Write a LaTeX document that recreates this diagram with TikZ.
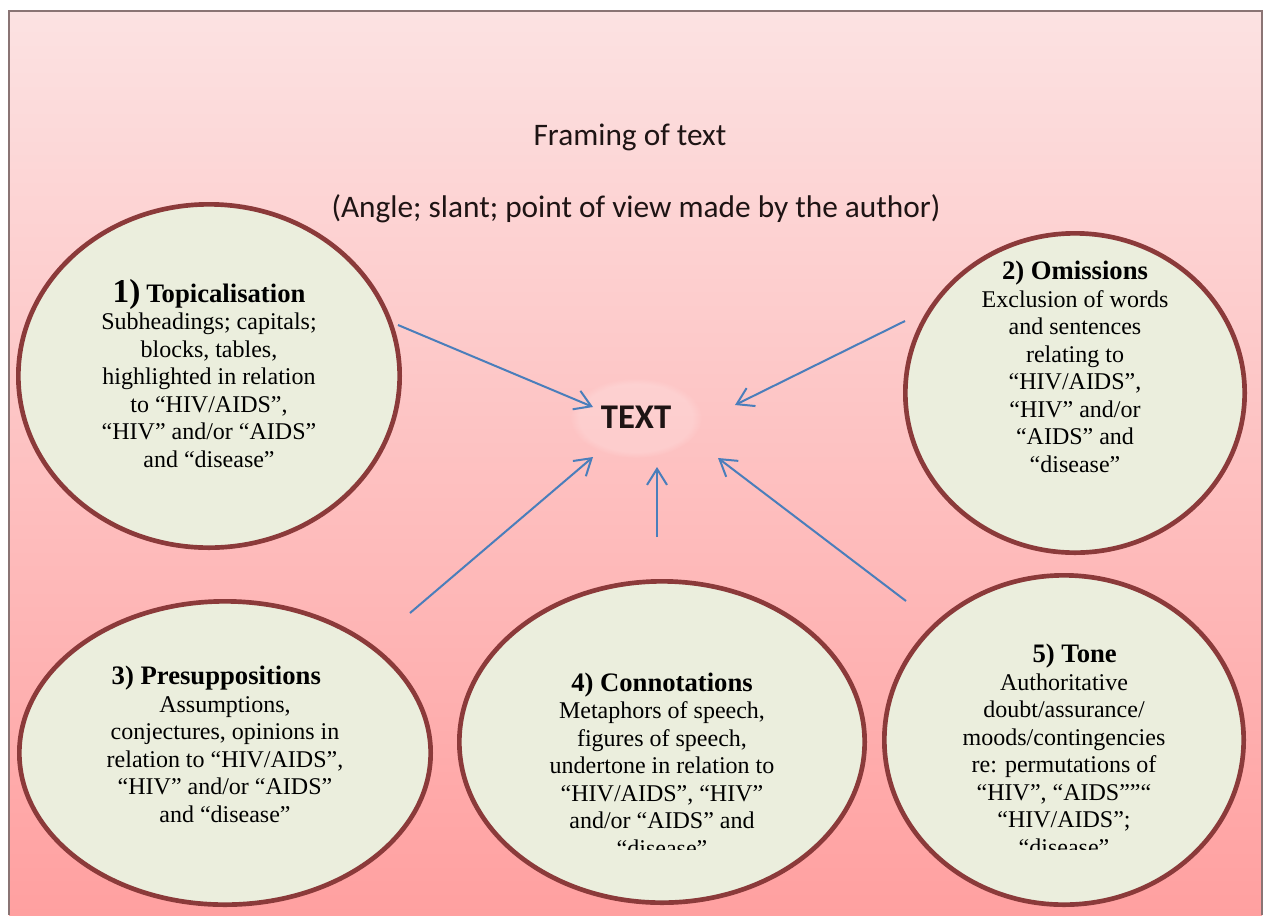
\documentclass[tikz,border=0pt]{standalone}
\usepackage{fontspec}
\setmainfont{Liberation Serif}
\newfontfamily\calfont{Carlito}
\usetikzlibrary{shapes.geometric,arrows.meta,fadings}
\definecolor{bgtop}{HTML}{FCE2E2}
\definecolor{bgmid}{HTML}{FFC8C8}
\definecolor{bgbot}{HTML}{FFA0A0}
\definecolor{framecol}{HTML}{8A7474}
\definecolor{ellfill}{HTML}{EBEEDD}
\definecolor{elldraw}{HTML}{8B3A3A}
\definecolor{arrowblue}{HTML}{4A7EBB}
\definecolor{titlecol}{HTML}{1E1414}
\begin{document}
\begin{tikzpicture}[x=0.75pt,y=-0.75pt,
  ell/.style={ellipse, draw=elldraw, fill=ellfill, line width=3.5pt, inner sep=0pt},
  arr/.style={draw=arrowblue, line width=1.5pt, -{Straight Barb[length=12pt,width=15pt]}},
  txt/.style={align=center, inner sep=0pt, anchor=base, font=\fontsize{18}{20.6}\selectfont},
  head/.style={font=\calfont\fontsize{23.5}{28}\selectfont, text=titlecol, anchor=base, inner sep=0pt}]
\useasboundingbox (0,0) rectangle (1266,915);
\fill[white] (0,0) rectangle (1266,915);
\shade[top color=bgtop, middle color=bgmid, bottom color=bgbot] (9,11) rectangle (1262,915);
\draw[framecol, line width=1.2pt] (9,915) -- (9,11) -- (1262,11) -- (1262,915);

% titles
\node[head] (title) at (630,145) {Framing of text};
\node[head] (subtitle) at (636,217) {(Angle; slant; point of view made by the author)};

% ellipses
\node[ell, minimum width=286pt, minimum height=257.5pt] (c1) at (209,376) {};
\node[ell, minimum width=254.5pt, minimum height=239.5pt] (c2) at (1075,393) {};
\node[ell, minimum width=308.5pt, minimum height=227.5pt] (c3) at (225,753) {};
\node[ell, minimum width=304pt, minimum height=241pt] (c4) at (662,742) {};
\node[ell, minimum width=269.5pt, minimum height=247pt] (c5) at (1064,740) {};

% centre text
\fill[white, opacity=0.18, path fading=circle with fuzzy edge 15 percent] (636,418) ellipse [x radius=66, y radius=40];
\node[font=\calfont\bfseries\fontsize{26}{30}\selectfont, text=titlecol, anchor=base, inner sep=0pt] (text) at (636,428) {TEXT};

% arrows
\coordinate (s1) at (398,325); \coordinate (e1) at (593,407);
\coordinate (s2) at (905,321); \coordinate (e2) at (735,405);
\coordinate (s3) at (410,613); \coordinate (e3) at (593,457);
\coordinate (s4) at (657,537); \coordinate (e4) at (657,467);
\coordinate (s5) at (906,601); \coordinate (e5) at (718,458);
\draw[arr] (s1) -- (e1);
\draw[arr] (s2) -- (e2);
\draw[arr] (s3) -- (e3);
\draw[arr] (s4) -- (e4);
\draw[arr] (s5) -- (e5);

% circle texts (base anchor = baseline of the last line)
\node[txt] (t1) at (209,467) {{\fontsize{25}{20.6}\selectfont\bfseries 1)} {\fontsize{20}{20.6}\selectfont\bfseries Topicalisation}\\
Subheadings; capitals;\\ blocks, tables,\\ highlighted in relation\\ to “HIV/AIDS”,\\ “HIV” and/or “AIDS”\\ and “disease”};
\node[txt] (t2) at (1075,472) {{\fontsize{20}{20.6}\selectfont\bfseries 2) Omissions}\\
Exclusion of words\\ and sentences\\ relating to\\ “HIV/AIDS”,\\ “HIV” and/or\\ “AIDS” and\\ “disease"};
\node[txt] (t3) at (225,822) {{\fontsize{20}{20.6}\selectfont\bfseries 3) Presuppositions}\hspace*{13pt}\\
Assumptions,\\ conjectures, opinions in\\ relation to “HIV/AIDS”,\\ “HIV” and/or “AIDS”\\ and “disease”};
\begin{scope}
\clip (0,0) rectangle (1266,849);
\node[txt] (t4) at (662,856) {{\fontsize{20}{20.6}\selectfont\bfseries 4) Connotations}\\
Metaphors of speech,\\ figures of speech,\\ undertone in relation to\\ “HIV/AIDS”, “HIV”\\ and/or “AIDS” and\\ “disease”};
\node[txt] (t5) at (1064,855) {\hspace*{16pt}{\fontsize{20}{20.6}\selectfont\bfseries 5) Tone}\\
Authoritative\\ doubt/assurance/\\ moods/contingencies\\ re: permutations of\\ “HIV”, “AIDS””“\\ “HIV/AIDS”;\\ “disease”};
\end{scope}
\end{tikzpicture}
\end{document}
